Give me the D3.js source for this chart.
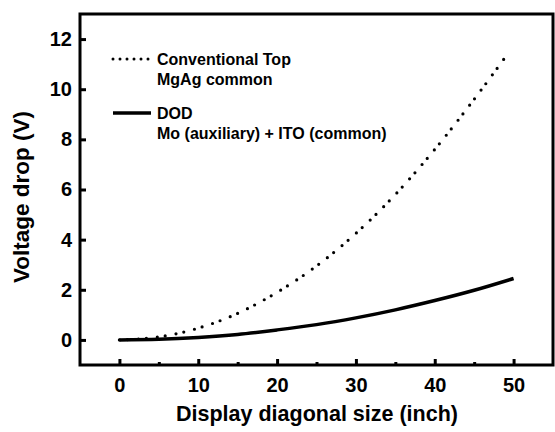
<!DOCTYPE html>
<html>
<head>
<meta charset="utf-8">
<script src="https://cdn.jsdelivr.net/npm/d3@7"></script>
<style>
  body { margin: 0; background: #fff; }
  svg text { font-family: "Liberation Sans", Arial, sans-serif; font-weight: bold; fill: #000; }
</style>
</head>
<body>
<svg id="svg1" width="555" height="432"></svg>
<script>
// values
var convSize  = [0, 5, 10, 15, 20, 25, 30, 35, 40, 45, 49];
var convDrop  = [0, 0.12, 0.47, 1.06, 1.9, 2.95, 4.25, 5.8, 7.6, 9.6, 11.3];
var dodSize   = [0, 5, 10, 15, 20, 25, 30, 35, 40, 45, 50];
var dodDrop   = [0, 0.025, 0.1, 0.22, 0.4, 0.61, 0.88, 1.2, 1.57, 1.98, 2.45];
var xMajor = [0, 10, 20, 30, 40, 50];
var xMinor = [5, 15, 25, 35, 45];
var yMajor = [0, 2, 4, 6, 8, 10, 12];
var legendLabels = [["Conventional Top", "MgAg common"], ["DOD", "Mo (auxiliary) + ITO (common)"]];

var plotLeft = 80, plotTop = 14, plotRight = 553, plotBottom = 365;

var svg = d3.select("#svg1");

var scaleX = d3.scaleLinear().domain([-5, 55]).range([plotLeft, plotRight]);
var scaleY = d3.scaleLinear().domain([-1, 13]).range([plotBottom, plotTop]);

// minor x ticks
svg.append("g")
    .attr("transform", "translate(0," + plotBottom + ")")
    .call(d3.axisBottom(scaleX).tickValues(xMinor).tickSizeInner(-3).tickSizeOuter(0).tickFormat(""))
    .call(function(g) {
      g.select(".domain").remove();
      g.selectAll("line").attr("stroke", "#000").attr("stroke-width", 3);
    });

// major x ticks
svg.append("g")
    .attr("transform", "translate(0," + plotBottom + ")")
    .call(d3.axisBottom(scaleX).tickValues(xMajor).tickSizeInner(-6).tickSizeOuter(0).tickPadding(13))
    .call(function(g) {
      g.select(".domain").remove();
      g.selectAll("line").attr("stroke", "#000").attr("stroke-width", 3);
      g.selectAll("text").attr("font-size", 20);
    });

// y ticks
svg.append("g")
    .attr("transform", "translate(" + plotLeft + ",0)")
    .call(d3.axisLeft(scaleY).tickValues(yMajor).tickSizeInner(-6).tickSizeOuter(0).tickPadding(8))
    .call(function(g) {
      g.select(".domain").remove();
      g.selectAll("line").attr("stroke", "#000").attr("stroke-width", 3);
      g.selectAll("text").attr("font-size", 20);
    });
svg.selectAll("g").attr("font-family", null).attr("font-size", null);

// frame
svg.append("rect")
    .attr("x", plotLeft).attr("y", plotTop)
    .attr("width", plotRight - plotLeft).attr("height", plotBottom - plotTop)
    .attr("fill", "none").attr("stroke", "#000").attr("stroke-width", 3);

var line = d3.line()
    .x(function(d) { return scaleX(d[0]); })
    .y(function(d) { return scaleY(d[1]); })
    .curve(d3.curveMonotoneX);

svg.append("path")
    .datum(convSize.map(function(s, i) { return [s, convDrop[i]]; }))
    .attr("d", line)
    .attr("fill", "none").attr("stroke", "#000")
    .attr("stroke-width", 3.2).attr("stroke-linecap", "round")
    .attr("stroke-dasharray", "0,8,0,11");

svg.append("path")
    .datum(dodSize.map(function(s, i) { return [s, dodDrop[i]]; }))
    .attr("d", line)
    .attr("fill", "none").attr("stroke", "#000")
    .attr("stroke-width", 3.5);

// legend
var legend = svg.append("g").attr("class", "legend");
legend.append("line")
    .attr("x1", 113).attr("x2", 149).attr("y1", 59).attr("y2", 59)
    .attr("stroke", "#000").attr("stroke-width", 3).attr("stroke-linecap", "round")
    .attr("stroke-dasharray", "0,7");
legend.append("line")
    .attr("x1", 113).attr("x2", 151).attr("y1", 113).attr("y2", 113)
    .attr("stroke", "#000").attr("stroke-width", 3.5);

legendLabels.forEach(function(lbl, i) {
  lbl.forEach(function(t, j) {
    legend.append("text")
        .attr("x", 157)
        .attr("y", 65 + i * 54 + j * 20)
        .attr("font-size", 16)
        .text(t);
  });
});

// axis titles
svg.append("text")
    .attr("x", 317).attr("y", 421)
    .attr("text-anchor", "middle")
    .attr("font-size", 21.5)
    .text("Display diagonal size (inch)");

svg.append("text")
    .attr("transform", "translate(29,197) rotate(-90)")
    .attr("text-anchor", "middle")
    .attr("font-size", 22.5)
    .text("Voltage drop (V)");
</script>
</body>
</html>
